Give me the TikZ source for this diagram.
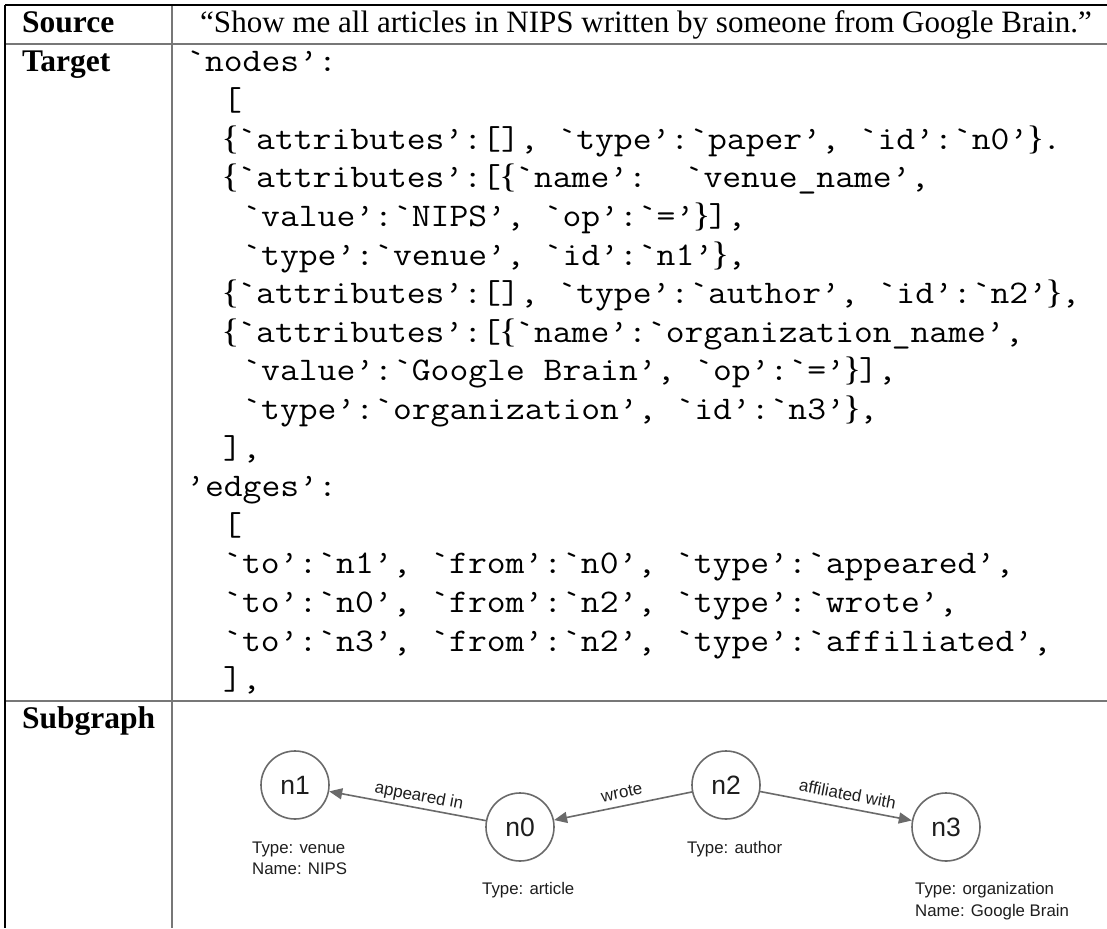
\documentclass[tikz,border=0pt]{standalone}
\usepackage{fontspec}
\setmainfont{Liberation Serif}
\setsansfont{Liberation Sans}
\usetikzlibrary{arrows.meta}
\definecolor{rulegray}{HTML}{777777}
\definecolor{graphline}{HTML}{6A6A6A}
\definecolor{graphtext}{HTML}{1E1E1E}
\newcommand{\codetxt}[1]{\scalebox{1.108}[1]{#1}}
\newcommand{\myLB}{\makebox[12.8pt][c]{\rmfamily\fontsize{34}{38}\selectfont\{}}
\newcommand{\myRB}{\makebox[12.8pt][c]{\rmfamily\fontsize{34}{38}\selectfont\}}}
\tikzset{
  codeline/.style={anchor=base west, inner sep=0pt, font=\fontsize{33}{38}\selectfont\ttfamily},
  hdr/.style={anchor=base west, inner sep=0pt, font=\fontsize{31.5}{38}\selectfont\bfseries},
  srctext/.style={anchor=base west, inner sep=0pt, font=\fontsize{31.05}{38}\selectfont},
  gnode/.style={circle, draw=graphline, line width=1.6pt, minimum size=68pt, inner sep=0pt, text=graphtext, font=\fontsize{26.5}{30}\selectfont\sffamily},
  glabel/.style={anchor=base west, inner sep=0pt, text=graphtext, font=\fontsize{16.8}{20}\selectfont\sffamily},
  elabel/.style={inner sep=0pt, text depth=0pt, text=graphtext, font=\fontsize{17}{20}\selectfont\sffamily},
  gedge/.style={draw=graphline, line width=1.6pt, -{Triangle[length=13pt,width=11pt]}},
  outer rule/.style={draw=black, line width=1.5pt},
  inner rule/.style={draw=rulegray, line width=2pt}
}
\begin{document}
\begin{tikzpicture}[x=1pt,y=-1pt]
\useasboundingbox (0,0) rectangle (1107,928);
\fill[white] (0,0) rectangle (1107,928);
% table rules
\draw[inner rule] (172,5) -- (172,928);
\draw[inner rule] (5,44) -- (1107,44);
\draw[inner rule] (5,701) -- (1107,701);
\draw[outer rule] (5,5) -- (1107,5);
\draw[outer rule] (5,5) -- (5,928);
% headers
\node[hdr] (hsrc) at (22,33) {Source};
\node[hdr] (htgt) at (22,72) {Target};
\node[hdr] (hsub) at (22,728) {Subgraph};
\node[srctext] (src) at (200,33) {“Show me all articles in NIPS written by someone from Google Brain.”};
% code
\node[codeline] (l0) at (186,72) {\codetxt{`nodes’:}};
\node[codeline] (l1) at (223,110.6) {\codetxt{[}};
\node[codeline] (l2) at (223,149.2) {\codetxt{\myLB`attributes’:[], `type’:`paper’, `id’:`n0’\myRB.}};
\node[codeline] (l3) at (223,187.8) {\codetxt{\myLB`attributes’:[\myLB`name’:~~`venue\_name’,}};
\node[codeline] (l4) at (242.2,226.4) {\codetxt{`value’:`NIPS’, `op’:`=’\myRB],}};
\node[codeline] (l5) at (242.2,265) {\codetxt{`type’:`venue’, `id’:`n1’\myRB,}};
\node[codeline] (l6) at (223,303.6) {\codetxt{\myLB`attributes’:[], `type’:`author’, `id’:`n2’\myRB,}};
\node[codeline] (l7) at (223,342.2) {\codetxt{\myLB`attributes’:[\myLB`name’:`organization\_name’,}};
\node[codeline] (l8) at (242.2,380.8) {\codetxt{`value’:`Google Brain’, `op’:`=’\myRB],}};
\node[codeline] (l9) at (242.2,419.4) {\codetxt{`type’:`organization’, `id’:`n3’\myRB,}};
\node[codeline] (l10) at (223,458) {\codetxt{],}};
\node[codeline] (l11) at (186,496.6) {\codetxt{’edges’:}};
\node[codeline] (l12) at (223,535.2) {\codetxt{[}};
\node[codeline] (l13) at (223,573.8) {\codetxt{`to’:`n1’, `from’:`n0’, `type’:`appeared’,}};
\node[codeline] (l14) at (223,612.4) {\codetxt{`to’:`n0’, `from’:`n2’, `type’:`wrote’,}};
\node[codeline] (l15) at (223,651) {\codetxt{`to’:`n3’, `from’:`n2’, `type’:`affiliated’,}};
\node[codeline] (l16) at (223,689.6) {\codetxt{],}};
% graph
\node[gnode] (n1) at (295,785) {n1};
\node[gnode] (n0) at (520,827) {n0};
\node[gnode] (n2) at (726,785) {n2};
\node[gnode] (n3) at (946,827) {n3};
\draw[gedge] (n0) -- (n1) node[elabel, pos=0.44, above=6pt, sloped] (e01) {appeared in};
\draw[gedge] (n2) -- (n0) node[elabel, pos=0.49, above=7pt, sloped] (e20) {wrote};
\draw[gedge] (n2) -- (n3) node[elabel, pos=0.56, above=7pt, sloped] (e23) {affiliated with};
\node[glabel] (t1a) at (252,853) {Type: venue};
\node[glabel] (t1b) at (252,874) {Name: NIPS};
\node[glabel] (t0a) at (482,894) {Type: article};
\node[glabel] (t2a) at (687,853) {Type: author};
\node[glabel] (t3a) at (915,894) {Type: organization};
\node[glabel] (t3b) at (915,916) {Name: Google Brain};
\end{tikzpicture}
\end{document}
